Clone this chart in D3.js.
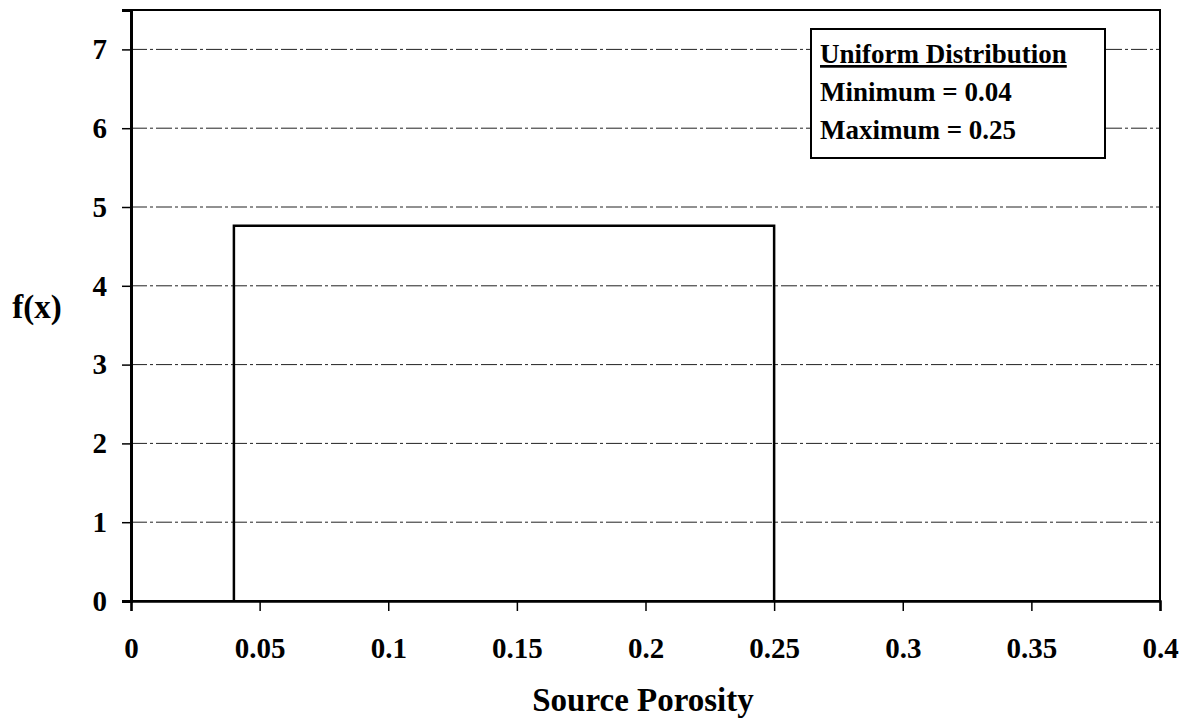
<!DOCTYPE html>
<html><head><meta charset="utf-8">
<script src="https://cdn.jsdelivr.net/npm/d3@7"></script>
<style>
body{margin:0;background:#fff;}
text{font-family:"Liberation Serif","Times New Roman",serif;font-weight:bold;fill:#000;}
</style></head>
<body><svg id="c" width="1184" height="723"></svg>
<script>
// Data
const xTicks = [0, 0.05, 0.1, 0.15, 0.2, 0.25, 0.3, 0.35, 0.4];
const xTickLabels = ["0", "0.05", "0.1", "0.15", "0.2", "0.25", "0.3", "0.35", "0.4"];
const yTicks = [0, 1, 2, 3, 4, 5, 6, 7];
const distX = [0.04, 0.04, 0.25, 0.25];
const distY = [0, 4.7619, 4.7619, 0];
const legendLines = ["Uniform Distribution", "Minimum = 0.04", "Maximum = 0.25"];
const xTitle = "Source Porosity";
const yTitle = "f(x)";

const svg = d3.select("#c");
const L = 131, R = 1160, T = 10, B = 601;
const x = d3.scaleLinear().domain([0, 0.4]).range([L, R]);
const y = d3.scaleLinear().domain([0, 7.5]).range([B, T]);

// gridlines
svg.append("g").selectAll("line").data(yTicks.filter(d => d > 0)).join("line")
  .attr("x1", L).attr("x2", R).attr("y1", d => y(d)).attr("y2", d => y(d))
  .attr("stroke", "#222").attr("stroke-width", 1).attr("stroke-dasharray", "16,3,3,3");

// plot frame
svg.append("rect").attr("x", L).attr("y", T).attr("width", R - L).attr("height", B - T)
  .attr("fill", "none").attr("stroke", "#000").attr("stroke-width", 2);

// axes
const xAxis = d3.axisBottom(x).tickValues(xTicks).tickSize(10).tickPadding(26)
  .tickFormat((d, i) => xTickLabels[i]);
const gx = svg.append("g").attr("transform", `translate(0,${B})`).call(xAxis);
gx.select(".domain").attr("stroke-width", 2.5);
gx.selectAll(".tick line").attr("stroke-width", 1.5);
gx.selectAll("text").style("font-size", "29px");

const yAxis = d3.axisLeft(y).tickValues(yTicks).tickSize(9).tickPadding(15);
const gy = svg.append("g").attr("transform", `translate(${L},0)`).call(yAxis);
gy.select(".domain").attr("stroke-width", 3);
gy.selectAll(".tick line").attr("stroke-width", 1.5);
gy.selectAll("text").style("font-size", "29px");

// distribution
const line = d3.line().x(d => x(d[0])).y(d => y(d[1]));
svg.append("path").datum(distX.map((v, i) => [v, distY[i]]))
  .attr("d", line).attr("fill", "none").attr("stroke", "#000").attr("stroke-width", 2.5);

// legend
const lg = svg.append("g");
lg.append("rect").attr("x", 811).attr("y", 29).attr("width", 294).attr("height", 129)
  .attr("fill", "#fff").attr("stroke", "#000").attr("stroke-width", 2);
const baselines = [63, 101, 139];
lg.selectAll("text").data(legendLines).join("text")
  .attr("x", 820).attr("y", (d, i) => baselines[i])
  .style("font-size", "27px")
  .attr("text-decoration", (d, i) => i === 0 ? "underline" : null)
  .text(d => d);

// titles
svg.append("text").attr("x", 643).attr("y", 711).attr("text-anchor", "middle")
  .style("font-size", "33px").text(xTitle);
svg.append("text").attr("x", 37).attr("y", 318).attr("text-anchor", "middle")
  .style("font-size", "33px").text(yTitle);
</script></body></html>
